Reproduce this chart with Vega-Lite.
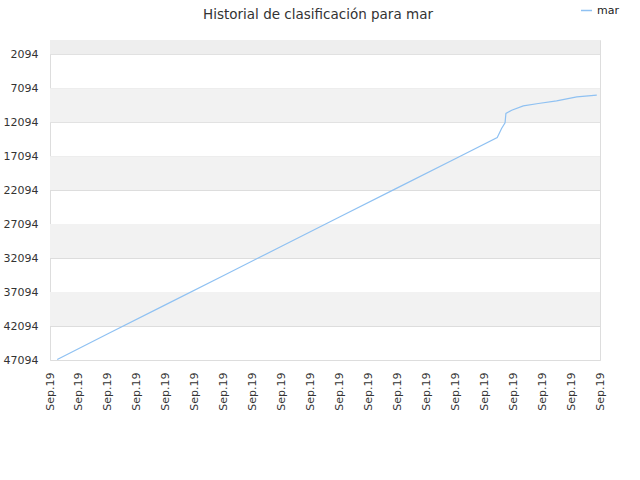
{
  "$schema": "https://vega.github.io/schema/vega-lite/v6.json",
  "width": 550,
  "height": 320,
  "autosize": {"type": "none"},
  "padding": {"left": 50, "top": 40, "right": 40, "bottom": 120},
  "background": "white",
  "config": {
    "font": "DejaVu Sans",
    "view": {"stroke": "#dddddd", "strokeWidth": 1},
    "axis": {"labelFont": "DejaVu Sans", "labelFontSize": 11, "labelColor": "#333333", "domain": false, "ticks": false, "labelOverlap": false}
  },
  "title": {
    "text": "Historial de clasificación para mar",
    "fontSize": 13.5,
    "fontWeight": "normal",
    "color": "#333333",
    "anchor": "middle",
    "frame": "group",
    "dx": -7,
    "dy": 17,
    "offset": 0
  },
  "datasets": {
    "bands": [
      {"y0": 1, "y1": 2094, "shade": "top"},
      {"y0": 7094, "y1": 12094, "shade": "band"},
      {"y0": 17094, "y1": 22094, "shade": "band"},
      {"y0": 27094, "y1": 32094, "shade": "band"},
      {"y0": 37094, "y1": 42094, "shade": "band"}
    ],
    "ranking": [
      {"fecha": "2019-09-01T06:00", "puesto": 47020, "serie": "mar"},
      {"fecha": "2019-09-03T00:00", "puesto": 43244, "serie": "mar"},
      {"fecha": "2019-09-05T00:00", "puesto": 38948, "serie": "mar"},
      {"fecha": "2019-09-07T00:00", "puesto": 34652, "serie": "mar"},
      {"fecha": "2019-09-09T00:00", "puesto": 30356, "serie": "mar"},
      {"fecha": "2019-09-11T00:00", "puesto": 26060, "serie": "mar"},
      {"fecha": "2019-09-13T00:00", "puesto": 21764, "serie": "mar"},
      {"fecha": "2019-09-15T00:00", "puesto": 17468, "serie": "mar"},
      {"fecha": "2019-09-16T10:48", "puesto": 14344, "serie": "mar"},
      {"fecha": "2019-09-16T14:24", "puesto": 13020, "serie": "mar"},
      {"fecha": "2019-09-16T17:17", "puesto": 12197, "serie": "mar"},
      {"fecha": "2019-09-16T18:00", "puesto": 10815, "serie": "mar"},
      {"fecha": "2019-09-16T22:48", "puesto": 10329, "serie": "mar"},
      {"fecha": "2019-09-17T08:24", "puesto": 9697, "serie": "mar"},
      {"fecha": "2019-09-17T20:53", "puesto": 9344, "serie": "mar"},
      {"fecha": "2019-09-18T12:00", "puesto": 8962, "serie": "mar"},
      {"fecha": "2019-09-19T04:48", "puesto": 8373, "serie": "mar"},
      {"fecha": "2019-09-19T21:20", "puesto": 8123, "serie": "mar"}
    ]
  },
  "layer": [
    {
      "data": {"name": "bands"},
      "mark": {"type": "rect"},
      "encoding": {
        "x": {
          "datum": {"year": 2019, "month": "sep", "date": 1},
          "type": "temporal",
          "title": null,
          "axis": {
            "format": "%b.%y",
            "labelAngle": -90,
            "labelAlign": "right",
            "labelBaseline": "middle",
            "labelPadding": 12,
            "grid": false,
            "labelOverlap": false,
            "labelFlush": false,
            "values": [
              {"year": 2019, "month": "sep", "date": 1},
              {"year": 2019, "month": "sep", "date": 2},
              {"year": 2019, "month": "sep", "date": 3},
              {"year": 2019, "month": "sep", "date": 4},
              {"year": 2019, "month": "sep", "date": 5},
              {"year": 2019, "month": "sep", "date": 6},
              {"year": 2019, "month": "sep", "date": 7},
              {"year": 2019, "month": "sep", "date": 8},
              {"year": 2019, "month": "sep", "date": 9},
              {"year": 2019, "month": "sep", "date": 10},
              {"year": 2019, "month": "sep", "date": 11},
              {"year": 2019, "month": "sep", "date": 12},
              {"year": 2019, "month": "sep", "date": 13},
              {"year": 2019, "month": "sep", "date": 14},
              {"year": 2019, "month": "sep", "date": 15},
              {"year": 2019, "month": "sep", "date": 16},
              {"year": 2019, "month": "sep", "date": 17},
              {"year": 2019, "month": "sep", "date": 18},
              {"year": 2019, "month": "sep", "date": 19},
              {"year": 2019, "month": "sep", "date": 20}
            ]
          }
        },
        "x2": {"datum": {"year": 2019, "month": "sep", "date": 20}},
        "y": {
          "field": "y0",
          "type": "quantitative",
          "title": null,
          "axis": {
            "values": [2094, 7094, 12094, 17094, 22094, 27094, 32094, 37094, 42094, 47094],
            "format": "d",
            "grid": true,
            "gridColor": "#dddddd",
            "labelPadding": 12,
            "labelOverlap": false,
            "labelFlush": false
          }
        },
        "y2": {"field": "y1"},
        "fill": {
          "field": "shade",
          "type": "nominal",
          "scale": {"domain": ["top", "band"], "range": ["#eeeeee", "#f2f2f2"]},
          "legend": null
        }
      }
    },
    {
      "data": {"name": "ranking"},
      "mark": {"type": "line", "strokeWidth": 1.2},
      "encoding": {
        "x": {
          "field": "fecha",
          "type": "temporal",
          "title": null,
          "scale": {"domain": [{"year": 2019, "month": "sep", "date": 1}, {"year": 2019, "month": "sep", "date": 20}]},
          "axis": {
            "format": "%b.%y",
            "labelAngle": -90,
            "labelAlign": "right",
            "labelBaseline": "middle",
            "labelPadding": 12,
            "grid": false,
            "labelOverlap": false,
            "labelFlush": false,
            "values": [
              {"year": 2019, "month": "sep", "date": 1},
              {"year": 2019, "month": "sep", "date": 2},
              {"year": 2019, "month": "sep", "date": 3},
              {"year": 2019, "month": "sep", "date": 4},
              {"year": 2019, "month": "sep", "date": 5},
              {"year": 2019, "month": "sep", "date": 6},
              {"year": 2019, "month": "sep", "date": 7},
              {"year": 2019, "month": "sep", "date": 8},
              {"year": 2019, "month": "sep", "date": 9},
              {"year": 2019, "month": "sep", "date": 10},
              {"year": 2019, "month": "sep", "date": 11},
              {"year": 2019, "month": "sep", "date": 12},
              {"year": 2019, "month": "sep", "date": 13},
              {"year": 2019, "month": "sep", "date": 14},
              {"year": 2019, "month": "sep", "date": 15},
              {"year": 2019, "month": "sep", "date": 16},
              {"year": 2019, "month": "sep", "date": 17},
              {"year": 2019, "month": "sep", "date": 18},
              {"year": 2019, "month": "sep", "date": 19},
              {"year": 2019, "month": "sep", "date": 20}
            ]
          }
        },
        "y": {
          "field": "puesto",
          "type": "quantitative",
          "title": null,
          "scale": {"domain": [1, 47094], "reverse": true, "nice": false, "zero": false},
          "axis": {
            "values": [2094, 7094, 12094, 17094, 22094, 27094, 32094, 37094, 42094, 47094],
            "format": "d",
            "grid": true,
            "gridColor": "#dddddd",
            "labelPadding": 12,
            "labelOverlap": false,
            "labelFlush": false
          }
        },
        "color": {
          "field": "serie",
          "type": "nominal",
          "scale": {"domain": ["mar"], "range": ["#8fc1f2"]},
          "legend": {
            "title": null,
            "orient": "none",
            "legendX": 530,
            "legendY": -36,
            "symbolType": "stroke",
            "symbolSize": 121,
            "symbolStrokeWidth": 1.5,
            "labelFontSize": 11,
            "labelColor": "#222222",
            "labelFont": "DejaVu Sans"
          }
        }
      }
    }
  ]
}
